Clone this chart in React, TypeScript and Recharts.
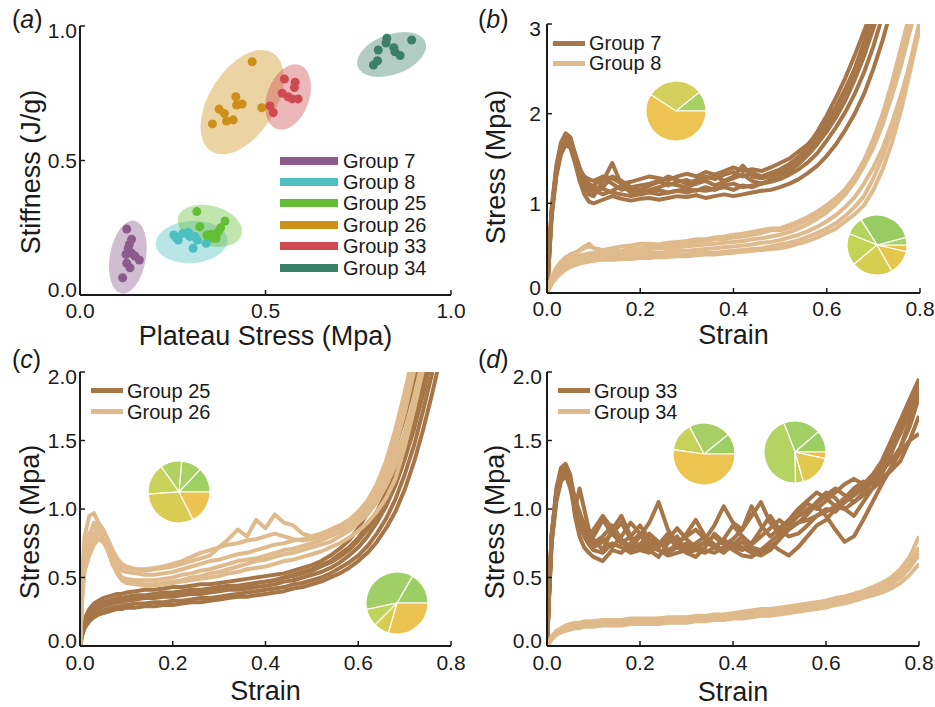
import React from 'react';
import {
  LineChart,
  Line,
  ScatterChart,
  Scatter,
  XAxis,
  YAxis,
  ZAxis,
  Legend,
  PieChart,
  Pie,
  Cell,
} from 'recharts';

const FONT = '"Liberation Sans", Arial, Helvetica, sans-serif';
const INK = '#1b1b1b';
const DARK_BROWN = '#a67548';
const LIGHT_TAN = '#dfba8c';

// ---------- Panel (a): plateau stress vs stiffness ----------
const GROUP_NAMES = ['Group 7', 'Group 8', 'Group 25', 'Group 26', 'Group 33', 'Group 34'];
const GROUP_COLORS = ['#8c5b8c', '#4dbfc0', '#63bd35', '#cc9018', '#cf4a50', '#3c7f69'];

const G7_POINTS = [
  [0.126, 0.245], [0.139, 0.207], [0.133, 0.188], [0.13, 0.174], [0.124, 0.151], [0.139, 0.155],
  [0.148, 0.145], [0.16, 0.13], [0.126, 0.118], [0.135, 0.101], [0.115, 0.064],
];
const G8_POINTS = [
  [0.253, 0.223], [0.265, 0.204], [0.259, 0.213], [0.277, 0.229], [0.292, 0.233], [0.296, 0.217],
  [0.31, 0.217], [0.316, 0.204], [0.305, 0.174], [0.34, 0.192], [0.346, 0.211],
];
const G25_POINTS = [
  [0.315, 0.31], [0.323, 0.254], [0.342, 0.223], [0.355, 0.226], [0.367, 0.211], [0.373, 0.235],
  [0.379, 0.25], [0.391, 0.275], [0.358, 0.212],
];
const G26_POINTS = [
  [0.464, 0.867], [0.42, 0.737], [0.422, 0.706], [0.437, 0.71], [0.375, 0.691], [0.389, 0.675],
  [0.395, 0.647], [0.413, 0.651], [0.357, 0.636], [0.49, 0.696],
];
const G33_POINTS = [
  [0.551, 0.803], [0.58, 0.791], [0.578, 0.771], [0.545, 0.75], [0.561, 0.737], [0.572, 0.729],
  [0.588, 0.729], [0.512, 0.703], [0.521, 0.678],
];
const G34_POINTS = [
  [0.827, 0.954], [0.825, 0.937], [0.894, 0.948], [0.804, 0.911], [0.846, 0.919], [0.849, 0.904],
  [0.863, 0.89], [0.802, 0.871], [0.791, 0.855],
];
const GROUP_POINTS = [G7_POINTS, G8_POINTS, G25_POINTS, G26_POINTS, G33_POINTS, G34_POINTS];

// centre of each group's confidence ellipse (data units)
const CLUSTER_CENTERS = [
  [0.129, 0.141], [0.301, 0.197], [0.35, 0.257], [0.437, 0.717], [0.561, 0.736], [0.84, 0.894],
];
// drawn ellipse outline: semi-axes in px and tilt in degrees
const CLUSTER_SHAPES = [
  { rx: 37, ry: 18, angle: -80 },
  { rx: 36, ry: 21, angle: -4 },
  { rx: 33, ry: 20, angle: 15 },
  { rx: 58, ry: 33, angle: -58 },
  { rx: 34, ry: 21, angle: -70 },
  { rx: 36, ry: 20, angle: -20 },
];

// ---------- Panels (b)-(d): stress-strain curves ----------
const STRAIN = [
  0, 0.005, 0.01, 0.02, 0.03, 0.04, 0.05, 0.06, 0.07, 0.08, 0.09,
  0.1, 0.12, 0.14, 0.16, 0.18, 0.2, 0.22, 0.24, 0.26, 0.28,
  0.3, 0.32, 0.34, 0.36, 0.38, 0.4, 0.42, 0.44, 0.46, 0.48,
  0.5, 0.52, 0.54, 0.56, 0.58, 0.6, 0.62, 0.64, 0.66, 0.68,
  0.7, 0.72, 0.74, 0.76, 0.78, 0.8,
];
const STRAIN_TICKS = [0, 0.2, 0.4, 0.6, 0.8];

const B_GROUP7 = [
  [0, 0.5, 0.95, 1.42, 1.68, 1.78, 1.74, 1.55, 1.38, 1.3, 1.27,
    1.25, 1.3, 1.28, 1.22, 1.24, 1.27, 1.3, 1.28, 1.26, 1.3,
    1.33, 1.3, 1.35, 1.32, 1.36, 1.4, 1.36, 1.38, 1.36, 1.4,
    1.45, 1.5, 1.58, 1.66, 1.78, 1.92, 2.08, 2.28, 2.5, 2.78,
    3.1, 3.5],
  [0, 0.45, 0.9, 1.35, 1.62, 1.72, 1.7, 1.5, 1.3, 1.18, 1.1,
    1.08, 1.25, 1.45, 1.2, 1.12, 1.1, 1.13, 1.15, 1.12, 1.14,
    1.16, 1.14, 1.18, 1.15, 1.2, 1.22, 1.18, 1.2, 1.22, 1.24,
    1.27, 1.32, 1.38, 1.46, 1.56, 1.7, 1.85, 2.02, 2.22, 2.46,
    2.75, 3.1, 3.5],
  [0, 0.42, 0.85, 1.3, 1.55, 1.65, 1.62, 1.45, 1.25, 1.1, 1.02,
    1.0, 1.04, 1.08, 1.05, 1.03, 1.05, 1.06, 1.04, 1.06, 1.08,
    1.07, 1.09, 1.06, 1.08, 1.1, 1.08, 1.1, 1.12, 1.14, 1.15,
    1.18, 1.22, 1.27, 1.34, 1.42, 1.53, 1.66, 1.82, 2.0, 2.22,
    2.5, 2.82, 3.2],
  [0, 0.48, 0.92, 1.38, 1.63, 1.7, 1.66, 1.48, 1.32, 1.22, 1.15,
    1.2, 1.28, 1.22, 1.15, 1.18, 1.2, 1.22, 1.25, 1.2, 1.24,
    1.26, 1.22, 1.28, 1.3, 1.25, 1.3, 1.42, 1.3, 1.28, 1.3,
    1.34, 1.4, 1.48, 1.58, 1.7, 1.86, 2.04, 2.25, 2.5, 2.8,
    3.15],
  [0, 0.44, 0.88, 1.33, 1.58, 1.68, 1.66, 1.52, 1.36, 1.25, 1.2,
    1.15, 1.1, 1.14, 1.2, 1.15, 1.12, 1.15, 1.18, 1.22, 1.2,
    1.18, 1.22, 1.25, 1.2, 1.24, 1.28, 1.32, 1.25, 1.22, 1.26,
    1.3, 1.36, 1.44, 1.54, 1.66, 1.8, 1.96, 2.15, 2.38, 2.64,
    2.95, 3.3],
  [0, 0.46, 0.9, 1.36, 1.6, 1.74, 1.72, 1.56, 1.4, 1.28, 1.22,
    1.18, 1.16, 1.12, 1.1, 1.08, 1.1, 1.12, 1.1, 1.12, 1.14,
    1.12, 1.15, 1.14, 1.16, 1.18, 1.15, 1.2, 1.18, 1.22, 1.25,
    1.3, 1.38, 1.5, 1.64, 1.8, 1.98, 2.18, 2.4, 2.65, 2.92,
    3.2],
  [0, 0.47, 0.92, 1.4, 1.65, 1.76, 1.73, 1.52, 1.33, 1.22, 1.15,
    1.12, 1.18, 1.3, 1.25, 1.18, 1.15, 1.2, 1.24, 1.3, 1.26,
    1.22, 1.26, 1.3, 1.27, 1.32, 1.35, 1.3, 1.34, 1.3, 1.34,
    1.38, 1.44, 1.52, 1.62, 1.74, 1.88, 2.05, 2.25, 2.48, 2.75,
    3.05, 3.4],
];

const B_GROUP8 = [
  [0, 0.1, 0.18, 0.28, 0.35, 0.4, 0.43, 0.45, 0.47, 0.5, 0.52,
    0.5, 0.48, 0.5, 0.52, 0.53, 0.55, 0.55, 0.54, 0.56, 0.57,
    0.58, 0.6, 0.6, 0.62, 0.63, 0.65, 0.66, 0.68, 0.7, 0.72,
    0.72, 0.76, 0.8, 0.85, 0.91, 0.98, 1.06, 1.16, 1.3, 1.48,
    1.72, 2.0, 2.35, 2.75, 3.15],
  [0, 0.08, 0.15, 0.24, 0.3, 0.35, 0.38, 0.4, 0.42, 0.43, 0.44,
    0.45, 0.46, 0.47, 0.47, 0.48, 0.48, 0.49, 0.5, 0.5, 0.51,
    0.52, 0.53, 0.54, 0.55, 0.56, 0.57, 0.58, 0.6, 0.61, 0.63,
    0.65, 0.68, 0.72, 0.77, 0.83, 0.9, 0.99, 1.1, 1.24, 1.42,
    1.64, 1.92, 2.25, 2.62, 3.0, 3.4],
  [0, 0.07, 0.13, 0.21, 0.27, 0.31, 0.34, 0.36, 0.38, 0.39, 0.4,
    0.41, 0.42, 0.42, 0.43, 0.44, 0.44, 0.45, 0.45, 0.46, 0.47,
    0.47, 0.48, 0.49, 0.5, 0.51, 0.52, 0.53, 0.54, 0.56, 0.57,
    0.59, 0.62, 0.65, 0.69, 0.74, 0.8, 0.87, 0.96, 1.07, 1.22,
    1.4, 1.62, 1.9, 2.22, 2.58, 2.95],
  [0, 0.06, 0.12, 0.19, 0.25, 0.29, 0.32, 0.34, 0.36, 0.37, 0.38,
    0.38, 0.39, 0.4, 0.4, 0.41, 0.41, 0.41, 0.42, 0.42, 0.43,
    0.43, 0.44, 0.45, 0.45, 0.46, 0.47, 0.48, 0.49, 0.5, 0.52,
    0.54, 0.56, 0.59, 0.63, 0.67, 0.72, 0.78, 0.86, 0.96, 1.08,
    1.28, 1.52, 1.82, 2.18, 2.6, 3.05],
  [0, 0.09, 0.17, 0.26, 0.33, 0.38, 0.41, 0.44, 0.48, 0.52, 0.55,
    0.5, 0.47, 0.45, 0.47, 0.5, 0.5, 0.52, 0.5, 0.52, 0.53,
    0.55, 0.56, 0.58, 0.6, 0.6, 0.62, 0.63, 0.65, 0.67, 0.7,
    0.7, 0.73, 0.77, 0.82, 0.88, 0.95, 1.03, 1.13, 1.26, 1.42,
    1.62, 1.88, 2.2, 2.55, 2.95, 3.35],
  [0, 0.05, 0.1, 0.17, 0.22, 0.26, 0.29, 0.31, 0.33, 0.34, 0.35,
    0.36, 0.37, 0.37, 0.38, 0.38, 0.39, 0.39, 0.4, 0.4, 0.41,
    0.41, 0.42, 0.43, 0.43, 0.44, 0.45, 0.46, 0.47, 0.48, 0.49,
    0.5, 0.52, 0.55, 0.58, 0.62, 0.67, 0.72, 0.8, 0.88, 0.98,
    1.15, 1.38, 1.68, 2.05, 2.5, 2.98],
];

const C_GROUP25 = [
  [0, 0.14, 0.2, 0.27, 0.31, 0.33, 0.35, 0.36, 0.37, 0.38, 0.38,
    0.39, 0.4, 0.41, 0.41, 0.42, 0.43, 0.43, 0.44, 0.45, 0.45,
    0.46, 0.47, 0.48, 0.49, 0.5, 0.51, 0.52, 0.53, 0.55, 0.57,
    0.59, 0.62, 0.66, 0.71, 0.77, 0.86, 0.97, 1.1, 1.26, 1.45,
    1.67, 1.9, 2.15],
  [0, 0.12, 0.18, 0.24, 0.28, 0.3, 0.32, 0.33, 0.34, 0.35, 0.35,
    0.36, 0.37, 0.37, 0.38, 0.39, 0.39, 0.4, 0.41, 0.41, 0.42,
    0.43, 0.44, 0.44, 0.45, 0.46, 0.47, 0.48, 0.5, 0.51, 0.53,
    0.55, 0.58, 0.61, 0.65, 0.7, 0.77, 0.85, 0.95, 1.08, 1.24,
    1.44, 1.66, 1.92, 2.2],
  [0, 0.1, 0.16, 0.22, 0.25, 0.27, 0.29, 0.3, 0.31, 0.32, 0.32,
    0.33, 0.34, 0.35, 0.35, 0.36, 0.36, 0.37, 0.38, 0.38, 0.39,
    0.4, 0.41, 0.41, 0.42, 0.43, 0.44, 0.45, 0.47, 0.48, 0.5,
    0.52, 0.54, 0.57, 0.61, 0.66, 0.72, 0.8, 0.9, 1.02, 1.17,
    1.36, 1.58, 1.84, 2.12],
  [0, 0.09, 0.14, 0.2, 0.23, 0.25, 0.26, 0.27, 0.28, 0.29, 0.29,
    0.3, 0.31, 0.31, 0.32, 0.32, 0.33, 0.33, 0.34, 0.35, 0.35,
    0.36, 0.37, 0.38, 0.39, 0.4, 0.41, 0.42, 0.43, 0.45, 0.46,
    0.48, 0.5, 0.53, 0.57, 0.61, 0.66, 0.73, 0.82, 0.93, 1.07,
    1.25, 1.46, 1.72, 2.0],
  [0, 0.08, 0.13, 0.18, 0.21, 0.23, 0.24, 0.25, 0.26, 0.27, 0.27,
    0.28, 0.28, 0.29, 0.29, 0.3, 0.3, 0.31, 0.32, 0.32, 0.33,
    0.34, 0.35, 0.36, 0.36, 0.37, 0.38, 0.39, 0.4, 0.42, 0.43,
    0.45, 0.47, 0.5, 0.53, 0.57, 0.62, 0.68, 0.76, 0.86, 0.98,
    1.14, 1.34, 1.58, 1.85, 2.15],
  [0, 0.11, 0.17, 0.23, 0.27, 0.29, 0.31, 0.32, 0.33, 0.34, 0.34,
    0.35, 0.36, 0.36, 0.37, 0.37, 0.38, 0.39, 0.39, 0.4, 0.41,
    0.42, 0.42, 0.43, 0.44, 0.46, 0.47, 0.48, 0.5, 0.52, 0.54,
    0.56, 0.59, 0.62, 0.67, 0.72, 0.79, 0.88, 0.98, 1.12, 1.28,
    1.48, 1.72, 1.98, 2.25],
];

const C_GROUP26 = [
  [0, 0.55, 0.8, 0.95, 0.97, 0.9, 0.85, 0.78, 0.7, 0.64, 0.6,
    0.58, 0.56, 0.55, 0.56, 0.57, 0.58, 0.6, 0.62, 0.64, 0.66,
    0.72, 0.78, 0.85, 0.8, 0.92, 0.86, 0.96, 0.9, 0.88, 0.82,
    0.8, 0.82, 0.85, 0.88, 0.92, 0.98, 1.06, 1.18, 1.35, 1.58,
    1.85, 2.15],
  [0, 0.45, 0.7, 0.82, 0.87, 0.84, 0.78, 0.7, 0.62, 0.58, 0.55,
    0.54, 0.53, 0.52, 0.52, 0.53, 0.54, 0.56, 0.58, 0.6, 0.62,
    0.63, 0.65, 0.67, 0.68, 0.7, 0.72, 0.74, 0.75, 0.77, 0.78,
    0.8, 0.82, 0.84, 0.87, 0.9, 0.95, 1.02, 1.12, 1.26, 1.45,
    1.7, 2.0, 2.3],
  [0, 0.4, 0.62, 0.75, 0.82, 0.85, 0.8, 0.7, 0.6, 0.54, 0.5,
    0.49, 0.48, 0.48, 0.48, 0.49, 0.5, 0.52, 0.53, 0.55, 0.56,
    0.58, 0.6, 0.62, 0.63, 0.64, 0.66, 0.68, 0.7, 0.71, 0.73,
    0.75, 0.77, 0.8, 0.83, 0.87, 0.92, 0.99, 1.08, 1.2, 1.36,
    1.56, 1.82, 2.1],
  [0, 0.38, 0.58, 0.7, 0.78, 0.82, 0.8, 0.72, 0.62, 0.55, 0.5,
    0.47, 0.46, 0.45, 0.45, 0.46, 0.47, 0.48, 0.5, 0.51, 0.53,
    0.54, 0.56, 0.58, 0.6, 0.62, 0.63, 0.65, 0.67, 0.68, 0.7,
    0.72, 0.74, 0.76, 0.8, 0.84, 0.9, 0.96, 1.05, 1.17, 1.32,
    1.52, 1.76, 2.05],
  [0, 0.42, 0.66, 0.8, 0.9, 0.88, 0.82, 0.72, 0.64, 0.6, 0.58,
    0.57, 0.56, 0.56, 0.57, 0.58, 0.6, 0.62, 0.65, 0.68, 0.7,
    0.72, 0.74, 0.75, 0.77, 0.78, 0.8, 0.82, 0.8, 0.78, 0.77,
    0.78, 0.8, 0.83, 0.86, 0.9, 0.96, 1.04, 1.15, 1.3, 1.5,
    1.76, 2.05],
  [0, 0.36, 0.55, 0.66, 0.74, 0.78, 0.76, 0.7, 0.6, 0.53, 0.48,
    0.46, 0.45, 0.44, 0.44, 0.45, 0.46, 0.47, 0.48, 0.49, 0.5,
    0.51, 0.53, 0.54, 0.56, 0.57, 0.58, 0.6, 0.62, 0.63, 0.65,
    0.67, 0.69, 0.72, 0.75, 0.79, 0.84, 0.9, 0.98, 1.08, 1.22,
    1.45, 1.72, 2.02],
];

const D_GROUP33 = [
  [0, 0.45, 0.8, 1.15, 1.3, 1.33, 1.25, 1.05, 0.95, 0.9, 0.85,
    0.8, 0.92, 0.82, 0.75, 0.8, 0.88, 0.78, 0.74, 0.82, 0.76,
    0.72, 0.75, 0.8, 0.74, 0.7, 0.72, 0.76, 0.7, 0.68, 0.72,
    0.78, 0.85, 0.9, 0.92, 0.95, 0.98, 1.02, 1.0, 1.05, 1.1,
    1.15, 1.2, 1.3, 1.45, 1.65, 1.9],
  [0, 0.4, 0.75, 1.05, 1.2, 1.25, 1.15, 1.0, 1.15, 1.0, 0.85,
    0.78, 0.7, 0.85, 0.95, 0.8, 0.72, 0.75, 0.7, 0.68, 0.72,
    0.75, 0.7, 0.68, 0.72, 0.78, 0.72, 0.7, 0.75, 0.85, 0.95,
    0.85, 0.8, 0.82, 0.88, 0.95, 1.0, 0.98, 1.05, 1.1, 1.15,
    1.22, 1.28, 1.35, 1.45, 1.6, 1.82],
  [0, 0.42, 0.78, 1.1, 1.25, 1.3, 1.2, 0.95, 0.8, 0.72, 0.68,
    0.65, 0.62, 0.7, 0.68, 0.75, 0.82, 0.7, 0.65, 0.75, 0.8,
    0.68, 0.65, 0.72, 0.82, 0.76, 0.7, 0.66, 0.65, 0.7, 0.75,
    0.7, 0.66, 0.72, 0.8, 0.88, 0.92, 1.0, 1.05, 1.12, 1.18,
    1.25, 1.35, 1.5, 1.65, 1.8, 1.95],
  [0, 0.44, 0.82, 1.12, 1.28, 1.32, 1.22, 1.02, 0.9, 0.82, 0.78,
    0.75, 0.8, 0.88, 0.78, 0.72, 0.8, 0.9, 1.05, 0.85, 0.75,
    0.8, 0.85, 0.78, 0.88, 1.02, 0.9, 0.85, 0.95, 1.05, 0.9,
    0.82, 0.88, 0.95, 0.98, 1.05, 1.12, 1.08, 1.0, 0.95, 1.05,
    1.15, 1.22, 1.28, 1.35, 1.5, 1.68],
  [0, 0.4, 0.76, 1.08, 1.22, 1.28, 1.2, 1.0, 0.88, 0.8, 0.74,
    0.7, 0.68, 0.75, 0.72, 0.68, 0.7, 0.72, 0.7, 0.66, 0.68,
    0.7, 0.72, 0.7, 0.68, 0.72, 0.75, 0.72, 0.68, 0.66, 0.7,
    0.78, 0.88, 0.95, 1.0, 1.02, 0.95, 0.85, 0.76, 0.8, 0.92,
    1.05, 1.18, 1.3, 1.42, 1.5, 1.55],
  [0, 0.43, 0.8, 1.12, 1.27, 1.3, 1.22, 1.08, 0.98, 0.88, 0.8,
    0.74, 0.78, 0.72, 0.8, 0.9, 0.82, 0.76, 0.72, 0.78, 0.86,
    0.78, 0.72, 0.76, 0.8, 0.74, 0.78, 0.85, 1.02, 0.88, 0.8,
    0.86, 0.92, 1.0, 1.06, 1.12, 1.08, 1.02, 1.08, 1.15, 1.2,
    1.18, 1.25, 1.4, 1.58, 1.78, 1.92],
  [0, 0.41, 0.77, 1.08, 1.22, 1.27, 1.18, 1.02, 0.9, 0.84, 0.8,
    0.85, 0.95, 0.86, 0.76, 0.7, 0.74, 0.82, 0.76, 0.7, 0.74,
    0.82, 0.92, 0.8, 0.72, 0.78, 0.88, 0.8, 0.74, 0.8, 0.86,
    0.92, 0.86, 0.9, 0.96, 1.04, 1.1, 1.15, 1.1, 1.05, 1.12,
    1.2, 1.3, 1.42, 1.55, 1.72, 1.85],
  [0, 0.44, 0.81, 1.1, 1.24, 1.28, 1.2, 1.05, 0.92, 0.82, 0.76,
    0.72, 0.76, 0.82, 0.9, 0.78, 0.7, 0.68, 0.74, 0.8, 0.72,
    0.68, 0.7, 0.76, 0.72, 0.68, 0.74, 0.8, 0.72, 0.7, 0.76,
    0.82, 0.9, 0.98, 1.04, 1.0, 1.06, 1.12, 1.18, 1.22, 1.18,
    1.22, 1.32, 1.45, 1.6, 1.75, 1.88],
];

const D_GROUP34 = [
  [0, 0.04, 0.07, 0.11, 0.13, 0.15, 0.16, 0.17, 0.17, 0.18, 0.18,
    0.18, 0.19, 0.19, 0.19, 0.2, 0.2, 0.2, 0.2, 0.21, 0.21,
    0.21, 0.22, 0.22, 0.23, 0.23, 0.24, 0.25, 0.26, 0.27, 0.27,
    0.28, 0.29, 0.3, 0.31, 0.32, 0.33, 0.35, 0.36, 0.38, 0.4,
    0.43, 0.46, 0.5, 0.56, 0.65, 0.8],
  [0, 0.03, 0.06, 0.09, 0.11, 0.13, 0.14, 0.15, 0.15, 0.16, 0.16,
    0.16, 0.17, 0.17, 0.17, 0.17, 0.18, 0.18, 0.18, 0.18, 0.19,
    0.19, 0.19, 0.2, 0.2, 0.21, 0.21, 0.22, 0.23, 0.23, 0.24,
    0.25, 0.26, 0.27, 0.28, 0.29, 0.3, 0.32, 0.33, 0.35, 0.37,
    0.39, 0.41, 0.45, 0.5, 0.57, 0.68],
  [0, 0.02, 0.05, 0.08, 0.1, 0.11, 0.12, 0.13, 0.13, 0.14, 0.14,
    0.14, 0.15, 0.15, 0.15, 0.16, 0.16, 0.16, 0.16, 0.17, 0.17,
    0.17, 0.18, 0.18, 0.19, 0.19, 0.2, 0.2, 0.21, 0.22, 0.22,
    0.23, 0.24, 0.25, 0.26, 0.27, 0.28, 0.3, 0.31, 0.33, 0.35,
    0.37, 0.39, 0.42, 0.46, 0.52, 0.6],
  [0, 0.03, 0.06, 0.1, 0.12, 0.14, 0.15, 0.16, 0.16, 0.17, 0.17,
    0.17, 0.18, 0.18, 0.18, 0.19, 0.19, 0.19, 0.2, 0.2, 0.2,
    0.2, 0.21, 0.21, 0.22, 0.22, 0.23, 0.23, 0.24, 0.25, 0.26,
    0.27, 0.28, 0.29, 0.3, 0.31, 0.33, 0.34, 0.36, 0.37, 0.39,
    0.41, 0.44, 0.48, 0.53, 0.6, 0.72],
  [0, 0.03, 0.06, 0.1, 0.12, 0.14, 0.15, 0.16, 0.16, 0.17, 0.17,
    0.17, 0.17, 0.18, 0.18, 0.18, 0.19, 0.19, 0.19, 0.2, 0.2,
    0.2, 0.2, 0.21, 0.21, 0.22, 0.22, 0.23, 0.24, 0.24, 0.25,
    0.26, 0.27, 0.28, 0.29, 0.3, 0.32, 0.34, 0.36, 0.38, 0.4,
    0.42, 0.44, 0.47, 0.52, 0.58, 0.66],
];

// ---------- composition pie insets (slice angles in degrees) ----------
const PIE_B1 = [39, 108, 213];
const PIE_B2 = [13, 15, 107, 36, 62, 80, 47];
const PIE_C1 = [47, 38, 40, 59, 113, 63];
const PIE_C2 = [60, 132, 33, 29, 106];
const PIE_D1 = [39, 79, 54, 188];
const PIE_D2 = [41, 70, 160, 15, 62, 12];

const PIE_B1_COLORS = ['#a6d163', '#d3cf5c', '#edc452'];
const PIE_B2_COLORS = ['#ebbf4b', '#a8d366', '#98cc62', '#b4d35f', '#c4d357', '#d5ce4f', '#e5c74d'];
const PIE_C1_COLORS = ['#9dcf63', '#a8d064', '#b3d160', '#c8d258', '#d8cc52', '#ecc350'];
const PIE_C2_COLORS = ['#9ccf63', '#9fcf66', '#c0d35a', '#d8cd52', '#ecc350'];
const PIE_D1_COLORS = ['#9ccf62', '#a7cf66', '#c6d157', '#ecc551'];
const PIE_D2_COLORS = ['#9ccf62', '#a3d065', '#b3d463', '#c9d05a', '#e2c84e', '#edbe4c'];

// ---------- layout ----------
const XH = 40;
const YW = 50;
type Box = { x: number; y: number; w: number; h: number };
type Plot = { l: number; t: number; r: number; b: number };

const BOX_A: Box = { x: 0, y: 0, w: 465, h: 345 };
const BOX_B: Box = { x: 465, y: 0, w: 470, h: 345 };
const BOX_C: Box = { x: 0, y: 345, w: 465, h: 362 };
const BOX_D: Box = { x: 465, y: 345, w: 470, h: 362 };
const PLOT_A: Plot = { l: 80, t: 26, r: 451, b: 295 };
const PLOT_B: Plot = { l: 547, t: 24, r: 920, b: 293 };
const PLOT_C: Plot = { l: 80, t: 372, r: 451, b: 646 };
const PLOT_D: Plot = { l: 547, t: 372, r: 919, b: 646 };

const marginFor = (box: Box, plot: Plot) => ({
  left: plot.l - box.x - YW,
  top: plot.t - box.y,
  right: box.x + box.w - plot.r,
  bottom: box.y + box.h - plot.b - XH,
});

const AXIS_LINE = { stroke: INK, strokeWidth: 2 };
const TICK_LINE = { stroke: INK, strokeWidth: 1.5 };
const TICK_SIZE = 21;
const TICK_TEXT = { fill: INK, fontSize: TICK_SIZE, fontFamily: FONT };
const TITLE_SIZE = 27;
const fmt1 = (v: number) => v.toFixed(1);

const toSeries = (vals: number[]) => vals.map((y, i) => ({ x: STRAIN[i], y }));

// y tick label: the end labels are nudged inward so they stay clear of the frame corners
function makeYTick(fmt: (v: number) => string, max: number) {
  return (props: any) => {
    const { x, y, payload } = props;
    const v = payload.value;
    const shift = v === max ? 5 : v === 0 ? -5 : 0;
    return (
      <text x={x} y={y + shift} dy="0.355em" textAnchor="end" fontSize={TICK_SIZE} fontFamily={FONT} fill={INK}>
        {fmt(v)}
      </text>
    );
  };
}

// ---------- legends ----------
// one row per named series, in the order given, skipping hidden replicate entries
function SwatchLegend({ payload, order, sw, sh, row, gap, font }: any) {
  const seen = new Set<string>();
  const items = (payload || [])
    .filter((p: any) => p.type !== 'none' && order.includes(p.value))
    .filter((p: any) => (seen.has(p.value) ? false : (seen.add(p.value), true)))
    .sort((a: any, b: any) => order.indexOf(a.value) - order.indexOf(b.value));
  return (
    <div style={{ fontFamily: FONT, fontSize: font, color: INK, lineHeight: 1 }}>
      {items.map((p: any) => (
        <div key={p.value} style={{ display: 'flex', alignItems: 'center', height: row, whiteSpace: 'nowrap' }}>
          <span style={{ display: 'inline-block', width: sw, height: sh, background: p.color, marginRight: gap }} />
          <span style={{ lineHeight: 1 }}>{p.value}</span>
        </div>
      ))}
    </div>
  );
}

// ---------- panel (a) ----------
function ClusterPanel() {
  const ellipseData = CLUSTER_CENTERS.map(([x, y], i) => ({ x, y, i }));
  const renderEllipse = (props: any) => {
    const { cx, cy, payload } = props;
    const s = CLUSTER_SHAPES[payload.i];
    return (
      <ellipse
        cx={cx}
        cy={cy}
        rx={s.rx}
        ry={s.ry}
        transform={`rotate(${s.angle} ${cx} ${cy})`}
        fill={GROUP_COLORS[payload.i]}
        fillOpacity={0.4}
        stroke="none"
      />
    );
  };
  return (
    <div style={{ position: 'absolute', left: BOX_A.x, top: BOX_A.y }}>
      <ScatterChart width={BOX_A.w} height={BOX_A.h} margin={marginFor(BOX_A, PLOT_A)}>
        <XAxis
          type="number" dataKey="x" domain={[0, 1]} ticks={[0, 0.5, 1]} interval={0}
          tickFormatter={fmt1} height={XH} tickSize={-5} tickMargin={13}
          axisLine={AXIS_LINE} tickLine={TICK_LINE} tick={TICK_TEXT} allowDataOverflow
        />
        <YAxis
          type="number" dataKey="y" domain={[0, 1]} ticks={[0, 0.5, 1]} interval={0}
          width={YW} tickSize={-5} tickMargin={8}
          axisLine={AXIS_LINE} tickLine={TICK_LINE} tick={makeYTick(fmt1, 1)} allowDataOverflow
        />
        <XAxis xAxisId="top" orientation="top" type="number" domain={[0, 1]} height={0} tick={false} tickLine={false} axisLine={AXIS_LINE} />
        <YAxis yAxisId="right" orientation="right" type="number" domain={[0, 1]} width={0} tick={false} tickLine={false} axisLine={AXIS_LINE} />
        <ZAxis range={[56, 56]} />
        <Scatter name="cluster" data={ellipseData} shape={renderEllipse} legendType="none" isAnimationActive={false} />
        {GROUP_POINTS.map((pts, i) => (
          <Scatter
            key={GROUP_NAMES[i]}
            name={GROUP_NAMES[i]}
            data={pts.map(([x, y]) => ({ x, y }))}
            fill={GROUP_COLORS[i]}
            shape="circle"
            isAnimationActive={false}
          />
        ))}
        <Legend
          layout="vertical" align="center" verticalAlign="middle"
          wrapperStyle={{ left: 280, top: 150, width: 'auto', margin: 0, padding: 0 }}
          content={(p: any) => (
            <SwatchLegend payload={p.payload} order={GROUP_NAMES} sw={58} sh={8} row={21.4} gap={5} font={20} />
          )}
        />
      </ScatterChart>
    </div>
  );
}

// ---------- panels (b)-(d) ----------
type Group = { name: string; color: string; curves: number[][] };

function CurvePanel({
  box, plot, yMax, yTicks, yFmt, groups, legendAt, xMargin, yMargin, legendRow,
}: {
  box: Box; plot: Plot; yMax: number; yTicks: number[]; yFmt: (v: number) => string;
  groups: Group[]; legendAt: { left: number; top: number }; xMargin: number; yMargin: number; legendRow: number;
}) {
  const order = groups.map((g) => g.name);
  return (
    <div style={{ position: 'absolute', left: box.x, top: box.y }}>
      <LineChart width={box.w} height={box.h} margin={marginFor(box, plot)}>
        <XAxis
          type="number" dataKey="x" domain={[0, 0.8]} ticks={STRAIN_TICKS} interval={0}
          tickFormatter={fmt1} height={XH} tickSize={-5} tickMargin={xMargin}
          axisLine={AXIS_LINE} tickLine={TICK_LINE} tick={TICK_TEXT} allowDataOverflow
        />
        <YAxis
          type="number" domain={[0, yMax]} ticks={yTicks} interval={0}
          width={YW} tickSize={-5} tickMargin={yMargin}
          axisLine={AXIS_LINE} tickLine={TICK_LINE} tick={makeYTick(yFmt, yMax)} allowDataOverflow
        />
        <XAxis xAxisId="top" orientation="top" type="number" domain={[0, 0.8]} height={0} tick={false} tickLine={false} axisLine={AXIS_LINE} />
        <YAxis yAxisId="right" orientation="right" type="number" domain={[0, yMax]} width={0} tick={false} tickLine={false} axisLine={AXIS_LINE} />
        {groups.map((g) =>
          g.curves.map((c, i) => (
            <Line
              key={`${g.name}-${i}`}
              name={g.name}
              data={toSeries(c)}
              dataKey="y"
              type="linear"
              stroke={g.color}
              strokeWidth={4}
              strokeLinejoin="round"
              dot={false}
              activeDot={false}
              legendType={i === 0 ? 'line' : 'none'}
              isAnimationActive={false}
            />
          )),
        )}
        <Legend
          layout="vertical" align="center" verticalAlign="middle"
          wrapperStyle={{ left: legendAt.left, top: legendAt.top, width: 'auto', margin: 0, padding: 0 }}
          content={(p: any) => (
            <SwatchLegend payload={p.payload} order={order} sw={32} sh={5} row={legendRow} gap={4} font={20} />
          )}
        />
      </LineChart>
    </div>
  );
}

function Badge({ cx, cy, r, values, colors, start = 0 }: {
  cx: number; cy: number; r: number; values: number[]; colors: string[]; start?: number;
}) {
  const size = 2 * r + 6;
  const data = values.map((v, i) => ({ v, i }));
  return (
    <div style={{ position: 'absolute', left: cx - size / 2, top: cy - size / 2 }}>
      <PieChart width={size} height={size} margin={{ top: 0, right: 0, bottom: 0, left: 0 }}>
        <Pie
          data={data} dataKey="v" cx="50%" cy="50%" innerRadius={0} outerRadius={r}
          startAngle={start} endAngle={start + 360}
          stroke="#ffffff" strokeWidth={1.2} isAnimationActive={false}
        >
          {data.map((d) => (
            <Cell key={d.i} fill={colors[d.i]} />
          ))}
        </Pie>
      </PieChart>
    </div>
  );
}

const Y_TICKS_B = [0, 1, 2, 3];
const Y_TICKS_CD = [0, 0.5, 1, 1.5, 2];

function PanelLetter({ x, y, letter }: { x: number; y: number; letter: string }) {
  return (
    <text x={x} y={y} fontSize={25} fontFamily={FONT} fill={INK}>
      (<tspan fontStyle="italic">{letter}</tspan>)
    </text>
  );
}

function YTitle({ x, y, text }: { x: number; y: number; text: string }) {
  return (
    <text transform={`translate(${x},${y}) rotate(-90)`} dy="0.36em" textAnchor="middle" fontSize={TITLE_SIZE} fontFamily={FONT} fill={INK}>
      {text}
    </text>
  );
}

function XTitle({ plot, y, text }: { plot: Plot; y: number; text: string }) {
  return (
    <text x={(plot.l + plot.r) / 2} y={y} textAnchor="middle" fontSize={TITLE_SIZE} fontFamily={FONT} fill={INK}>
      {text}
    </text>
  );
}

export default function App() {
  return (
    <div style={{ position: 'absolute', left: 0, top: 0, width: 935, height: 707, background: '#ffffff', overflow: 'hidden', fontFamily: FONT }}>
      <ClusterPanel />
      <CurvePanel
        box={BOX_B} plot={PLOT_B} yMax={3} yTicks={Y_TICKS_B} yFmt={(v) => String(v)}
        groups={[
          { name: 'Group 7', color: DARK_BROWN, curves: B_GROUP7 },
          { name: 'Group 8', color: LIGHT_TAN, curves: B_GROUP8 },
        ]}
        legendAt={{ left: 88, top: 33 }} xMargin={13} yMargin={11} legendRow={20}
      />
      <CurvePanel
        box={BOX_C} plot={PLOT_C} yMax={2} yTicks={Y_TICKS_CD} yFmt={fmt1}
        groups={[
          { name: 'Group 25', color: DARK_BROWN, curves: C_GROUP25 },
          { name: 'Group 26', color: LIGHT_TAN, curves: C_GROUP26 },
        ]}
        legendAt={{ left: 91, top: 35 }} xMargin={14} yMargin={8} legendRow={21}
      />
      <CurvePanel
        box={BOX_D} plot={PLOT_D} yMax={2} yTicks={Y_TICKS_CD} yFmt={fmt1}
        groups={[
          { name: 'Group 33', color: DARK_BROWN, curves: D_GROUP33 },
          { name: 'Group 34', color: LIGHT_TAN, curves: D_GROUP34 },
        ]}
        legendAt={{ left: 93, top: 35 }} xMargin={14} yMargin={10} legendRow={21}
      />
      <Badge cx={676} cy={111} r={30} values={PIE_B1} colors={PIE_B1_COLORS} />
      <Badge cx={877} cy={245} r={30} values={PIE_B2} colors={PIE_B2_COLORS} start={-13} />
      <Badge cx={179} cy={492} r={31} values={PIE_C1} colors={PIE_C1_COLORS} />
      <Badge cx={397} cy={603} r={31} values={PIE_C2} colors={PIE_C2_COLORS} />
      <Badge cx={704} cy={454} r={31} values={PIE_D1} colors={PIE_D1_COLORS} />
      <Badge cx={795} cy={452} r={31} values={PIE_D2} colors={PIE_D2_COLORS} />
      <svg width={935} height={707} style={{ position: 'absolute', left: 0, top: 0, pointerEvents: 'none' }}>
        <PanelLetter x={12} y={28} letter="a" />
        <PanelLetter x={478} y={28} letter="b" />
        <PanelLetter x={12} y={368} letter="c" />
        <PanelLetter x={478} y={368} letter="d" />
        <YTitle x={30} y={172} text="Stiffness (J/g)" />
        <YTitle x={495} y={167} text="Stress (Mpa)" />
        <YTitle x={29} y={522} text="Stress (Mpa)" />
        <YTitle x={494} y={522} text="Stress (Mpa)" />
        <XTitle plot={PLOT_A} y={345} text="Plateau Stress (Mpa)" />
        <XTitle plot={PLOT_B} y={344} text="Strain" />
        <XTitle plot={PLOT_C} y={700} text="Strain" />
        <XTitle plot={PLOT_D} y={701} text="Strain" />
      </svg>
    </div>
  );
}
